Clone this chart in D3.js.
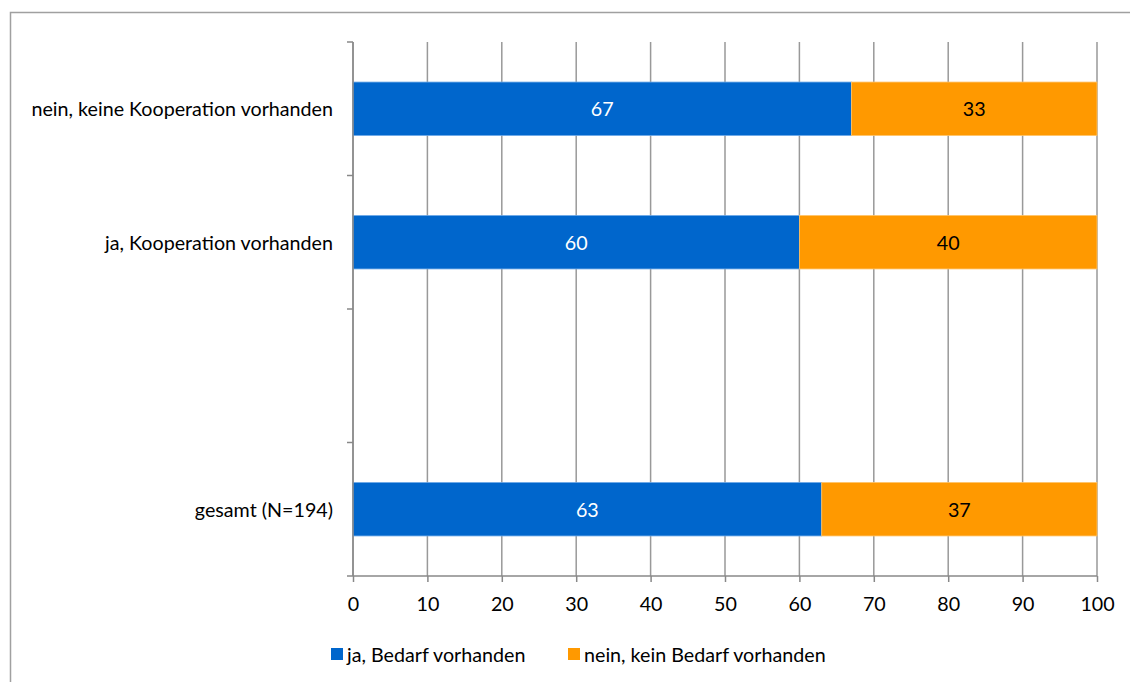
<!DOCTYPE html>
<html>
<head>
<meta charset="utf-8">
<script src="https://cdn.jsdelivr.net/npm/d3@7"></script>
<style>
  html, body { margin: 0; padding: 0; background: #fff; }
  svg { display: block; font-family: Lato, "Noto Sans", sans-serif; }
</style>
</head>
<body>
<svg id="chart" width="1130" height="682"></svg>
<script>
// Kategorien (von oben nach unten); die leere Zeile bleibt frei
const categories = ["nein, keine Kooperation vorhanden", "ja, Kooperation vorhanden", "", "gesamt (N=194)"];
const seriesNames = ["ja, Bedarf vorhanden", "nein, kein Bedarf vorhanden"];
const jaBedarf   = [67, 60, null, 63];
const neinBedarf = [33, 40, null, 37];
const xTicks = [0, 10, 20, 30, 40, 50, 60, 70, 80, 90, 100];

const colors = ["#0066CC", "#FF9900"];
const labelColors = ["#ffffff", "#000000"];
const FS = 19.7;

const svg = d3.select("#chart");
const W = 1130, H = 682;
const margin = { left: 353, right: 33, top: 42, bottom: 106 };
const innerW = W - margin.left - margin.right;
const innerH = H - margin.top - margin.bottom;

// Rahmen des Diagrammbereichs
svg.append("rect")
  .attr("x", 10.5).attr("y", 12.5)
  .attr("width", 1140).attr("height", 700)
  .attr("fill", "none").attr("stroke", "#a0a0a0").attr("stroke-width", 1.5);

const g = svg.append("g").attr("transform", `translate(${margin.left},${margin.top})`);

const x = d3.scaleLinear().domain([0, 100]).range([0, innerW]);
const y = d3.scaleBand().domain(d3.range(categories.length)).range([0, innerH]).paddingInner(0.6).paddingOuter(0.3);
const yEdges = d3.scaleLinear().domain([0, categories.length]).range([0, innerH]);

// senkrechte Gitterlinien
g.append("g").selectAll("line").data(xTicks).join("line")
  .attr("x1", d => x(d)).attr("x2", d => x(d))
  .attr("y1", 0).attr("y2", innerH)
  .attr("stroke", "#999").attr("stroke-width", 1.5);

// gestapelte Balken
const stacked = categories.map((c, i) => ({ i, vals: [jaBedarf[i], neinBedarf[i]] }));
stacked.forEach(row => {
  if (row.vals[0] == null) return;
  let x0 = 0;
  row.vals.forEach((v, s) => {
    g.append("rect")
      .attr("x", x(x0)).attr("y", y(row.i))
      .attr("width", x(x0 + v) - x(x0)).attr("height", y.bandwidth())
      .attr("fill", colors[s])
      .attr("stroke", s === 0 ? "#6aa6e6" : "#ffc266").attr("stroke-width", 0.8);
    g.append("text")
      .attr("x", x(x0 + v / 2)).attr("y", y(row.i) + y.bandwidth() / 2)
      .attr("text-anchor", "middle").attr("dominant-baseline", "central")
      .attr("fill", labelColors[s]).attr("font-size", FS)
      .text(v);
    x0 += v;
  });
});

// x-Achse
const xAxis = g.append("g").attr("transform", `translate(0,${innerH})`)
  .call(d3.axisBottom(x).tickValues(xTicks).tickSize(6).tickPadding(15));
xAxis.select(".domain").attr("stroke", "#888").attr("stroke-width", 1.5).attr("d", `M0,0H${innerW}`);
xAxis.selectAll(".tick line").attr("stroke", "#888").attr("stroke-width", 1.5);
xAxis.selectAll(".tick text").attr("font-size", FS).attr("fill", "#000").attr("font-family", "Lato, sans-serif");

// y-Achse mit Teilstrichen an den Kategoriegrenzen
const yAxisG = g.append("g");
yAxisG.append("line").attr("x1", 0).attr("x2", 0).attr("y1", 0).attr("y2", innerH)
  .attr("stroke", "#888").attr("stroke-width", 1.5);
yAxisG.selectAll("line.t").data(d3.range(categories.length + 1)).join("line").attr("class", "t")
  .attr("x1", -6).attr("x2", 0)
  .attr("y1", d => yEdges(d)).attr("y2", d => yEdges(d))
  .attr("stroke", "#888").attr("stroke-width", 1.5);
yAxisG.selectAll("text").data(categories).join("text")
  .attr("x", -20).attr("y", (d, i) => y(i) + y.bandwidth() / 2)
  .attr("text-anchor", "end").attr("dominant-baseline", "central")
  .attr("font-size", FS).attr("fill", "#000")
  .text(d => d);

// Legende
const legend = svg.append("g").attr("transform", "translate(331,654)");
const legendX = [0, 237];
seriesNames.forEach((n, i) => {
  const lg = legend.append("g").attr("transform", `translate(${legendX[i]},0)`);
  lg.append("rect").attr("x", 0).attr("y", -6).attr("width", 12).attr("height", 12).attr("fill", colors[i]);
  lg.append("text").attr("x", 16).attr("y", 0).attr("dominant-baseline", "central")
    .attr("font-size", FS).attr("fill", "#000").text(n);
});
</script>
</body>
</html>
